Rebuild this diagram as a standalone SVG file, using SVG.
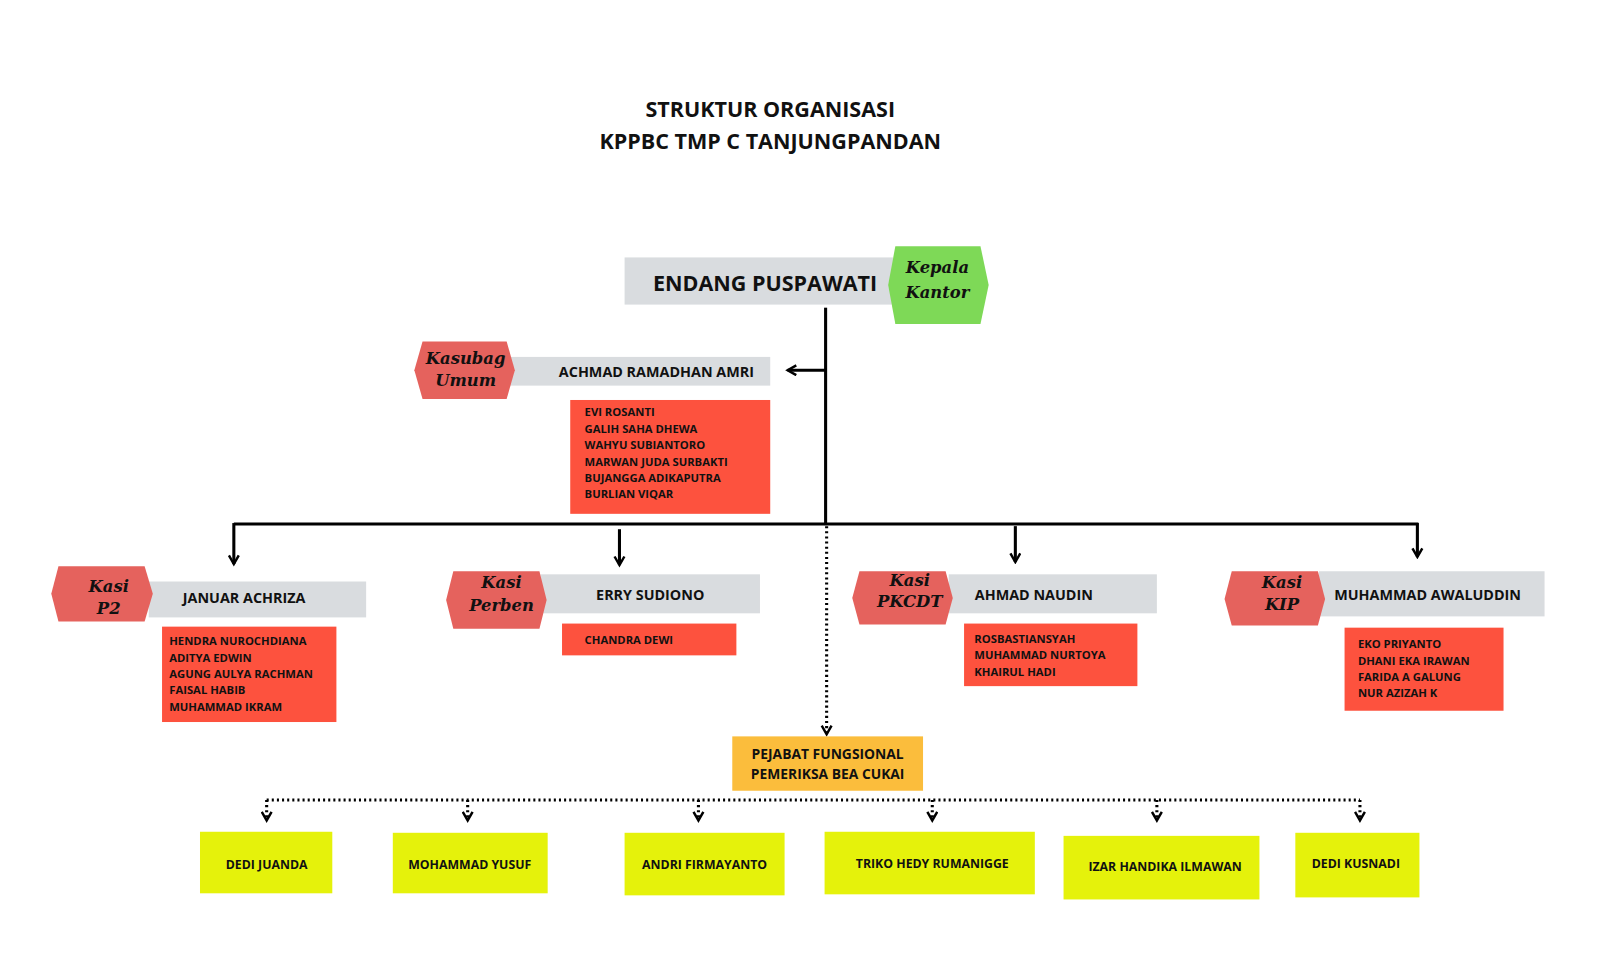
<svg xmlns="http://www.w3.org/2000/svg" width="1600" height="960" viewBox="0 0 1600 960">
<defs>
<style>
.t{font-family:"Open Sans","Liberation Sans",sans-serif;font-weight:bold;fill:#111}
.lb{font-family:"DejaVu Serif","Liberation Serif",serif;font-weight:bold;font-style:italic;fill:#111;font-size:16px;text-anchor:middle}
.gray{fill:#d9dcdf}
.hex{fill:#e5625d}
.list{fill:#fd523e}
.yel{fill:#e5f20b}
.ln{stroke:#000;stroke-width:3;fill:none}
.dl{stroke:#000;stroke-width:3;fill:none;stroke-dasharray:2 3}
</style>
<marker id="ah" viewBox="0 0 10 10" refX="8" refY="5" markerWidth="4" markerHeight="4" orient="auto"><path d="M1,1 L8,5 L1,9" fill="none" stroke="#000" stroke-width="2"/></marker>
</defs>
<rect width="1600" height="960" fill="#fff"/>
<g transform="scale(1.0256)">
<g id="title" class="t" font-size="21" text-anchor="middle">
<text x="751" y="114">STRUKTUR ORGANISASI</text>
<text x="751" y="145">KPPBC TMP C TANJUNGPANDAN</text>
</g>
<g id="connectors">
<line class="ln" x1="805" y1="300" x2="805" y2="512"/>
<line class="ln" x1="805" y1="361" x2="768" y2="361" marker-end="url(#ah)"/>
<line class="ln" x1="228" y1="511" x2="1383" y2="511"/>
<line class="ln" x1="228" y1="510" x2="228" y2="550" marker-end="url(#ah)"/>
<line class="ln" x1="604" y1="516" x2="604" y2="551" marker-end="url(#ah)"/>
<line class="ln" x1="990" y1="513" x2="990" y2="548" marker-end="url(#ah)"/>
<line class="ln" x1="1382" y1="510" x2="1382" y2="543" marker-end="url(#ah)"/>
<line class="dl" x1="806" y1="513" x2="806" y2="716" marker-end="url(#ah)"/>
<line class="dl" x1="260" y1="780" x2="1326" y2="780"/>
<line class="dl" x1="260" y1="780" x2="260" y2="800" marker-end="url(#ah)"/>
<line class="dl" x1="456" y1="780" x2="456" y2="800" marker-end="url(#ah)"/>
<line class="dl" x1="681" y1="780" x2="681" y2="800" marker-end="url(#ah)"/>
<line class="dl" x1="909" y1="780" x2="909" y2="800" marker-end="url(#ah)"/>
<line class="dl" x1="1128" y1="780" x2="1128" y2="800" marker-end="url(#ah)"/>
<line class="dl" x1="1326" y1="780" x2="1326" y2="800" marker-end="url(#ah)"/>
</g>
<g id="kepala">
<rect class="gray" x="609" y="251" width="262" height="46"/>
<text class="t" x="746" y="284" font-size="21" text-anchor="middle">ENDANG PUSPAWATI</text>
<polygon points="866,278 873,240 956,240 964,278 956,316 873,316" fill="#7ed957"/>
<text class="lb" x="914" y="266" font-size="17">Kepala</text>
<text class="lb" x="914" y="291" font-size="17">Kantor</text>
</g>
<g id="kasubag">
<rect class="gray" x="495" y="348" width="256" height="28"/>
<polygon class="hex" points="404,361 412,333 494,333 502,361 494,389 412,389"/>
<text class="lb" x="454" y="355" font-size="15">Kasubag</text>
<text class="lb" x="454" y="376" font-size="15">Umum</text>
<text class="t" x="640" y="368" font-size="14" text-anchor="middle">ACHMAD RAMADHAN AMRI</text>
<rect class="list" x="556" y="390" width="195" height="111"/>
<g class="t" font-size="11"><text x="570" y="406">EVI ROSANTI</text><text x="570" y="422">GALIH SAHA DHEWA</text><text x="570" y="438">WAHYU SUBIANTORO</text><text x="570" y="454">MARWAN JUDA SURBAKTI</text><text x="570" y="470">BUJANGGA ADIKAPUTRA</text><text x="570" y="486">BURLIAN VIQAR</text></g>
</g>
<g id="kasi-p2">
<rect class="gray" x="145" y="567" width="212" height="35"/>
<polygon class="hex" points="50,579 57,552 141,552 149,579 141,606 57,606"/>
<text class="lb" x="106" y="577">Kasi</text>
<text class="lb" x="106" y="599">P2</text>
<text class="t" x="238" y="588" font-size="14" text-anchor="middle">JANUAR ACHRIZA</text>
<rect class="list" x="158" y="611" width="170" height="93"/>
<g class="t" font-size="11"><text x="165" y="629">HENDRA NUROCHDIANA</text><text x="165" y="645">ADITYA EDWIN</text><text x="165" y="661">AGUNG AULYA RACHMAN</text><text x="165" y="677">FAISAL HABIB</text><text x="165" y="693">MUHAMMAD IKRAM</text></g>
</g>
<g id="kasi-perben">
<rect class="gray" x="527" y="560" width="214" height="38"/>
<polygon class="hex" points="435,585 442,557 526,557 533,585 526,613 442,613"/>
<text class="lb" x="489" y="573">Kasi</text>
<text class="lb" x="489" y="596">Perben</text>
<text class="t" x="634" y="585" font-size="14" text-anchor="middle">ERRY SUDIONO</text>
<rect class="list" x="548" y="608" width="170" height="31"/>
<text class="t" x="570" y="628" font-size="11">CHANDRA DEWI</text>
</g>
<g id="kasi-pkcdt">
<rect class="gray" x="925" y="560" width="203" height="38"/>
<polygon class="hex" points="831,583 838,557 922,557 929,583 922,609 838,609"/>
<text class="lb" x="887" y="571" font-size="14">Kasi</text>
<text class="lb" x="887" y="592" font-size="14">PKCDT</text>
<text class="t" x="1008" y="585" font-size="14" text-anchor="middle">AHMAD NAUDIN</text>
<rect class="list" x="940" y="608" width="169" height="61"/>
<g class="t" font-size="11"><text x="950" y="627">ROSBASTIANSYAH</text><text x="950" y="643">MUHAMMAD NURTOYA</text><text x="950" y="659">KHAIRUL HADI</text></g>
</g>
<g id="kasi-kip">
<rect class="gray" x="1286" y="557" width="220" height="44"/>
<polygon class="hex" points="1194,584 1201,557 1285,557 1292,584 1285,610 1201,610"/>
<text class="lb" x="1250" y="573">Kasi</text>
<text class="lb" x="1250" y="595">KIP</text>
<text class="t" x="1392" y="585" font-size="14" text-anchor="middle">MUHAMMAD AWALUDDIN</text>
<rect class="list" x="1311" y="612" width="155" height="81"/>
<g class="t" font-size="11"><text x="1324" y="632">EKO PRIYANTO</text><text x="1324" y="648">DHANI EKA IRAWAN</text><text x="1324" y="664">FARIDA A GALUNG</text><text x="1324" y="680">NUR AZIZAH K</text></g>
</g>
<g id="pejabat">
<rect x="714" y="718" width="186" height="53" fill="#fbbd3c"/>
<text class="t" x="807" y="740" font-size="13.5" text-anchor="middle">PEJABAT FUNGSIONAL</text>
<text class="t" x="807" y="760" font-size="13.5" text-anchor="middle">PEMERIKSA BEA CUKAI</text>
</g>
<g id="f1"><rect class="yel" x="195" y="811" width="129" height="60"/><text class="t" x="260" y="847" font-size="12" text-anchor="middle">DEDI JUANDA</text></g>
<g id="f2"><rect class="yel" x="383" y="812" width="151" height="59"/><text class="t" x="458" y="847" font-size="12" text-anchor="middle">MOHAMMAD YUSUF</text></g>
<g id="f3"><rect class="yel" x="609" y="812" width="156" height="61"/><text class="t" x="687" y="847" font-size="12" text-anchor="middle">ANDRI FIRMAYANTO</text></g>
<g id="f4"><rect class="yel" x="804" y="811" width="205" height="61"/><text class="t" x="909" y="846" font-size="12" text-anchor="middle">TRIKO HEDY RUMANIGGE</text></g>
<g id="f5"><rect class="yel" x="1037" y="815" width="191" height="62"/><text class="t" x="1136" y="849" font-size="12" text-anchor="middle">IZAR HANDIKA ILMAWAN</text></g>
<g id="f6"><rect class="yel" x="1263" y="812" width="121" height="63"/><text class="t" x="1322" y="846" font-size="12" text-anchor="middle">DEDI KUSNADI</text></g>
</g>
</svg>
